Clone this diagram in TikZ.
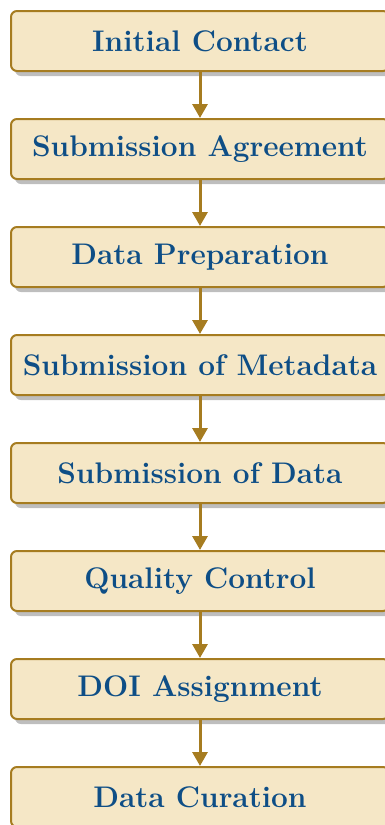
\documentclass[tikz,border=0pt]{standalone}
\usepackage{fontspec}
\usetikzlibrary{arrows.meta,shadows}
\definecolor{boxfill}{HTML}{F5E7C6}
\definecolor{boxline}{HTML}{A67C20}
\definecolor{boxtext}{HTML}{0E4E86}
\definecolor{shadowgray}{HTML}{BEBEBE}
\tikzset{
  stagebox/.style={draw=boxline, fill=boxfill, line width=2pt, rounded corners=6pt,
    minimum width=378pt, minimum height=60pt, inner sep=0pt,
    text=boxtext, font=\fontsize{29.8}{34}\selectfont\bfseries,
    drop shadow={shadow xshift=4pt, shadow yshift=-5pt, fill=shadowgray, opacity=1}},
  flowarrow/.style={draw=boxline, line width=3pt,
    -{Triangle[width=15pt,length=14pt]}}
}
\begin{document}
\begin{tikzpicture}[x=1pt,y=1pt]
\useasboundingbox (0,0) rectangle (385,-825);
\node[stagebox] (n1) at (200,-41) {Initial Contact};
\node[stagebox] (n2) at (200,-149) {Submission Agreement};
\node[stagebox] (n3) at (200,-257) {Data Preparation};
\node[stagebox] (n4) at (200,-365) {Submission of Metadata};
\node[stagebox] (n5) at (200,-473) {Submission of Data};
\node[stagebox] (n6) at (200,-581) {Quality Control};
\node[stagebox] (n7) at (200,-689) {DOI Assignment};
\node[stagebox] (n8) at (200,-797) {Data Curation};
\foreach \a/\b in {n1/n2,n2/n3,n3/n4,n4/n5,n5/n6,n6/n7,n7/n8}
  \draw[flowarrow] (\a) -- (\b);
\end{tikzpicture}
\end{document}
